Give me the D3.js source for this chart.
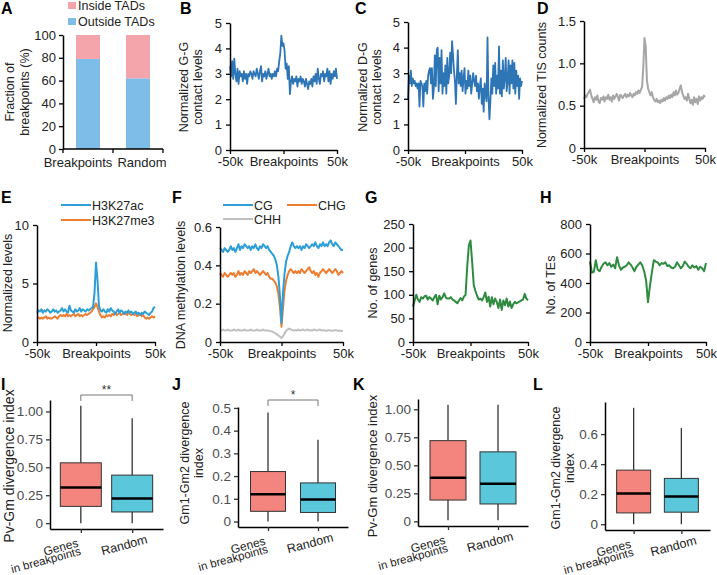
<!DOCTYPE html>
<html>
<head>
<meta charset="utf-8">
<script src="https://cdn.jsdelivr.net/npm/d3@7"></script>
<style>
  body { margin: 0; background: #fff; }
  svg { font-family: Arial, 'Liberation Sans', sans-serif; }
</style>
</head>
<body>
<svg id="fig" width="717" height="575"></svg>
<script>
// ---------- data ----------
var tadCategories = ['Breakpoints', 'Random'];
var outsideTads = [79, 62];
var insideTads = [21, 38];

// profiles from -50k to +50k around breakpoints (evenly spaced bins)
var ggContact = [3.3,2.9,3.5,2.8,3.6,3.0,2.7,3.2,2.6,3.1, 2.9,3.0,2.7,3.1,2.8,3.0,2.6,3.0,2.9,3.1,
  3.0,2.8,3.1,3.0,2.9,3.2,3.0,2.8,3.1,3.3, 2.7,3.0,2.9,3.1,2.8,3.0,3.2,2.9,3.0,2.8,
  3.0,2.9,3.1,2.9,3.2,3.1,3.5,3.8,4.5,4.1, 4.2,3.9,3.2,3.4,2.8,3.3,2.2,2.7,2.9,2.6,
  2.8,2.7,2.9,2.5,2.8,2.7,2.9,2.6,2.8,2.7, 2.5,2.8,2.6,2.4,2.7,2.6,2.8,2.5,2.9,2.7,
  3.0,2.6,3.2,2.8,2.6,3.0,2.9,3.1,2.7,3.0, 2.9,3.2,2.7,3.1,2.6,3.0,2.8,3.1,2.9,3.2,2.8];

var dgContact = [2.0,2.9,2.6,3.1,2.5,2.8,2.6,2.7,2.5,2.6,2.4,2.6, 1.7, 2.7,2.6,2.5, 1.7,
  2.6,2.3,2.7,2.2,2.9,3.1, 3.2,2.6,3.2,2.0, 2.4,3.7,2.5,3.9, 4.0,
  2.3,3.6,2.6,3.9,2.2,3.0,2.5,3.3,2.2,3.6,2.6,2.9,3.8,3.0, 4.25, 3.7,3.1,2.7, 1.8,
  2.9,3.9,2.6,3.0,2.5,3.1,2.3,2.8,3.2,2.2,
  2.7,2.4,3.1,2.5,2.9,2.2,2.6,3.0,2.7,2.5,2.9,2.3,2.6,2.0,2.5,2.8,1.8,2.4,
  1.5, 2.6,2.2,1.9, 4.4, 2.1, 1.2, 1.9,2.8,2.2,3.3,2.5,3.4,2.2,2.9,2.4, 4.05,
  2.2,3.1,2.1,3.5,2.4,2.8,3.6,2.3,2.7,3.5,2.2,3.3,2.6,3.5,2.4,3.4,2.2,3.1,2.5,2.9,2.0,2.8,2.5,2.7];

var tisCounts = [0.58,0.62,0.60,0.64,0.66,0.69,0.62,0.58,0.54,0.60,
  0.57,0.62,0.55,0.53,0.59,0.57,0.61,0.55,0.60,0.58,
  0.63,0.57,0.60,0.55,0.62,0.58,0.61,0.64,0.60,0.56,
  0.63,0.61,0.59,0.62,0.64,0.60,0.63,0.61,0.65,0.62,
  0.60,0.64,0.62,0.66,0.64,0.68,0.65,0.69,0.72,0.95,
  1.30,
  1.20,0.80,0.70,0.66,0.62,0.66,0.60,0.57,0.55,0.58,
  0.54,0.56,0.53,0.57,0.55,0.59,0.56,0.60,0.58,0.62,
  0.59,0.63,0.60,0.66,0.62,0.68,0.63,0.65,0.70,0.74,
  0.66,0.62,0.58,0.60,0.56,0.64,0.58,0.53,0.57,0.51,
  0.60,0.54,0.58,0.52,0.61,0.56,0.60,0.58,0.62,0.60];

var h3k27ac = [2.5,2.7,2.6,2.8,2.5,2.7,2.6,2.8,2.7,2.5, 2.6,2.8,2.6,2.7,2.5,2.6,2.7,2.9,2.6,2.8,
  2.6,2.5,3.1,2.7,2.6,2.5,2.8,2.6,2.7,2.9, 2.6,2.8,2.7,2.6,2.8,2.7,2.8,2.9,3.0,4.2,
  6.8,5.3,3.1,2.7,2.6,2.8,2.6,2.5,2.8,2.6, 2.9,2.7,2.6,2.4,2.6,2.8,2.5,2.7,2.6,2.4,
  2.6,2.5,2.7,2.5,2.6,2.4,2.5,2.6,2.4,2.5, 2.3,2.5,2.4,2.6,2.5,2.4,2.3,2.5,2.6,2.9,3.0];
var h3k27me3 = [2.0,2.1,2.0,2.1,2.0,2.1,2.2,2.0,2.1,2.0, 2.0,2.1,2.2,2.1,2.0,2.2,2.3,2.2,2.3,2.2,
  2.4,2.2,2.3,2.2,2.3,2.4,2.2,2.3,2.4,2.2, 2.3,2.2,2.3,2.4,2.3,2.4,2.5,2.6,2.8,3.0,
  3.3,3.0,2.6,2.3,2.1,2.2,2.1,2.3,2.2,2.3, 2.2,2.4,2.3,2.5,2.3,2.4,2.5,2.3,2.4,2.5,
  2.4,2.3,2.5,2.4,2.3,2.4,2.3,2.4,2.2,2.3, 2.4,2.2,2.3,2.1,2.0,2.1,2.0,2.1,2.2,2.1,2.2];

var cgMeth = [0.49,0.48,0.47,0.49,0.48,0.47,0.48,0.50,0.48,0.49, 0.47,0.49,0.51,0.48,0.50,0.49,0.51,0.50,0.49,0.50,
  0.48,0.50,0.49,0.51,0.49,0.48,0.50,0.49,0.51,0.50, 0.49,0.50,0.48,0.47,0.46,0.45,0.43,0.40,0.34,0.24,
  0.10,0.26,0.36,0.42,0.45,0.47,0.50,0.52,0.50,0.49, 0.50,0.49,0.50,0.48,0.50,0.49,0.51,0.50,0.49,0.50,
  0.51,0.50,0.52,0.50,0.49,0.51,0.50,0.52,0.50,0.51, 0.50,0.52,0.53,0.51,0.50,0.52,0.51,0.50,0.49,0.48,0.48];
var chgMeth = [0.36,0.35,0.34,0.36,0.35,0.34,0.35,0.36,0.35,0.36, 0.34,0.35,0.37,0.35,0.36,0.35,0.37,0.36,0.35,0.37,
  0.36,0.37,0.38,0.36,0.37,0.36,0.35,0.36,0.37,0.36, 0.35,0.36,0.34,0.33,0.33,0.32,0.31,0.29,0.25,0.18,
  0.08,0.18,0.27,0.32,0.35,0.37,0.38,0.37,0.36,0.37, 0.36,0.37,0.36,0.38,0.37,0.36,0.37,0.38,0.39,0.37,
  0.36,0.37,0.35,0.36,0.34,0.36,0.37,0.38,0.37,0.36, 0.37,0.38,0.37,0.36,0.37,0.38,0.37,0.35,0.36,0.37,0.36];
var chhMeth = [0.06,0.06,0.065,0.06,0.06,0.065,0.06,0.06,0.06,0.065, 0.06,0.06,0.065,0.06,0.06,0.06,0.065,0.06,0.06,0.06,
  0.065,0.06,0.06,0.06,0.065,0.06,0.06,0.06,0.065,0.06, 0.06,0.06,0.058,0.056,0.054,0.05,0.046,0.04,0.034,0.028,
  0.02,
  0.03,0.045,0.058,0.066,0.07,0.066,0.062,0.06,0.062,0.06, 0.065,0.06,0.062,0.065,0.06,0.062,0.065,0.06,0.062,0.06,
  0.065,0.062,0.06,0.062,0.065,0.06,0.062,0.06,0.058,0.06, 0.062,0.06,0.058,0.06,0.062,0.06,0.058,0.06,0.058,0.057];

var geneCounts = [75,88,100,90,85,95,92,97,98,90, 95,92,88,95,100,80,98,90,95,103,
  94,92,92,95,90,88,85,82,88,93, 88,96,100,160,205,215,170,120,108,98,
  90,92,88,95,105,85,96,75,95,80, 92,85,72,90,68,88,78,92,75,86,
  72,80,85,82,84,86,88,90,102,92,88];
var teCounts = [545,470,475,555,490,480,510,530,540,520, 535,510,525,500,575,520,490,505,510,520,
  540,525,505,480,510,525,540,520,480,420, 270,
  380,470,555,545,540,520,535,530,540,515, 520,505,500,510,540,520,500,515,545,530,
  510,500,520,505,515,490,510,500,480,535];

// box plots: [min, q1, median, q3, max]
var boxCategories = ['Genes in breakpoints', 'Random'];
var pvGmBreak = [[0, 0.15, 0.32, 0.54, 1.05], [0, 0.10, 0.22, 0.43, 0.94]];
var gm1Gm2Break = [[0, 0.045, 0.12, 0.22, 0.48], [0, 0.04, 0.097, 0.17, 0.36]];
var pvGmAll = [[0.01, 0.19, 0.39, 0.72, 1.04], [0.01, 0.155, 0.335, 0.62, 1.04]];
var gm1Gm2All = [[0, 0.075, 0.205, 0.36, 0.775], [0, 0.08, 0.185, 0.305, 0.64]];

// ---------- drawing ----------
var svg = d3.select('#fig');
var BLUE = '#2E75B6', LBLUE = '#2E9FD6', ORANGE = '#ED7D31', GREY = '#A6A6A6', GREEN = '#2E8B3F';

function panelLetter(t, x, y) {
  svg.append('text').attr('x', x).attr('y', y).attr('font-size', 16).attr('font-weight', 'bold').text(t);
}

// rotated y label, one text per line, lines given by centre x
function yLabel(lines, xs, cy, size) {
  lines.forEach(function(t, i) {
    svg.append('text')
      .attr('transform', 'translate(' + xs[i] + ',' + cy + ') rotate(-90)')
      .attr('text-anchor', 'middle').attr('dy', '0.35em')
      .attr('font-size', size || 12.5).attr('fill', '#222')
      .text(t);
  });
}

function styleAxis(a, size, color) {
  a.attr('font-family', null).attr('font-size', size || 13);
  a.select('.domain').attr('stroke', '#000').attr('stroke-width', 1.5);
  a.selectAll('.tick line').attr('stroke', '#000').attr('stroke-width', 1.3);
  a.selectAll('.tick text').attr('fill', color || '#222');
}

function zeroFmt(f) {
  return function(d) { return d === 0 ? '0' : d3.format(f)(d); };
}

/**
 * Stacked bar chart of panel A
 */
function barPanel() {
  var g = svg.append('g');
  var x = d3.scaleBand().domain(tadCategories).range([63, 163]);
  var y = d3.scaleLinear().domain([0, 100]).range([149, 35]);
  var bw = 24;

  g.selectAll('rect.out').data(outsideTads).join('rect')
    .attr('x', function(d, i) { return x(tadCategories[i]) + x.bandwidth() / 2 - bw / 2; })
    .attr('y', function(d) { return y(d); })
    .attr('width', bw).attr('height', function(d) { return y(0) - y(d); })
    .attr('fill', '#7DBDE8');
  g.selectAll('rect.in').data(insideTads).join('rect')
    .attr('x', function(d, i) { return x(tadCategories[i]) + x.bandwidth() / 2 - bw / 2; })
    .attr('y', function(d, i) { return y(outsideTads[i] + d); })
    .attr('width', bw).attr('height', function(d) { return y(0) - y(d); })
    .attr('fill', '#F4A5AB');

  var ya = g.append('g').attr('transform', 'translate(63,0)')
    .call(d3.axisLeft(y).tickValues([0, 20, 40, 60, 80, 100]).tickSize(4).tickPadding(3).tickSizeOuter(0));
  styleAxis(ya);

  var xa = g.append('g').attr('transform', 'translate(0,149)');
  xa.append('line').attr('x1', 63).attr('x2', 163).attr('stroke', '#000').attr('stroke-width', 1.5);
  [0, 1, 2].forEach(function(i) {
    xa.append('line').attr('x1', 63 + i * x.bandwidth()).attr('x2', 63 + i * x.bandwidth())
      .attr('y2', 4).attr('stroke', '#000').attr('stroke-width', 1.3);
  });
  var shift = [-10, 4];
  tadCategories.forEach(function(c, i) {
    xa.append('text').attr('x', x(c) + x.bandwidth() / 2 + shift[i]).attr('y', 18)
      .attr('text-anchor', 'middle').attr('font-size', 13).attr('fill', '#222').text(c);
  });

  // legend
  var leg = [['Inside TADs', '#F4A5AB'], ['Outside TADs', '#7DBDE8']];
  leg.forEach(function(l, i) {
    svg.append('rect').attr('x', 68).attr('y', 2 + i * 16).attr('width', 8).attr('height', 7).attr('fill', l[1]);
    svg.append('text').attr('x', 78).attr('y', 10 + i * 16).attr('font-size', 12.5).attr('fill', '#222').text(l[0]);
  });
}

/**
 * Profile line chart (-50k .. 50k)
 */
function linePanel(o) {
  var g = svg.append('g');
  var x = d3.scaleLinear().domain([-50, 50]).range([o.x0, o.x1]);
  var y = d3.scaleLinear().domain([0, o.max]).range([o.yBot, o.yTop]);

  o.series.forEach(function(s) {
    var n = s.values.length;
    var line = d3.line()
      .x(function(d, i) { return x(-50 + 100 * i / (n - 1)); })
      .y(function(d) { return y(d); });
    g.append('path').datum(s.values).attr('d', line)
      .attr('fill', 'none').attr('stroke', s.color).attr('stroke-width', s.width || 2)
      .attr('stroke-linejoin', 'round');
  });

  var ya = g.append('g').attr('transform', 'translate(' + o.x0 + ',0)')
    .call(d3.axisLeft(y).tickValues(o.ticks).tickFormat(o.fmt).tickSize(4).tickPadding(4).tickSizeOuter(0));
  styleAxis(ya);
  var xa = g.append('g').attr('transform', 'translate(0,' + o.yBot + ')')
    .call(d3.axisBottom(x).tickValues([-50, 0, 50])
      .tickFormat(function(d) { return d === 0 ? 'Breakpoints' : d + 'k'; })
      .tickSize(4).tickSizeOuter(0));
  styleAxis(xa);
}

function lineLegend(items) {
  items.forEach(function(it) {
    svg.append('line').attr('x1', it.x).attr('x2', it.x + 30).attr('y1', it.y).attr('y2', it.y)
      .attr('stroke', it.color).attr('stroke-width', 2);
    svg.append('text').attr('x', it.x + 31).attr('y', it.y + 4.5).attr('font-size', 12.5)
      .attr('fill', '#222').text(it.name);
  });
}

/**
 * ggplot-like box plot
 */
function boxPanel(o) {
  var g = svg.append('g');
  var x = d3.scalePoint().domain(boxCategories).range([o.x0, o.x1]).padding(0.6);
  var lo = d3.min(o.data, function(d) { return d[0]; });
  var hi = d3.max(o.data, function(d) { return d[4]; });
  var pad = (hi - lo) * 0.05;
  var y = d3.scaleLinear().domain([lo - pad, hi + pad]).range([o.yBot, o.yTop]);
  var fills = ['#F4847E', '#5BC7DB'];

  o.data.forEach(function(d, i) {
    var cx = x(boxCategories[i]);
    g.append('line').attr('x1', cx).attr('x2', cx).attr('y1', y(d[0])).attr('y2', y(d[1]))
      .attr('stroke', '#333').attr('stroke-width', 1.3);
    g.append('line').attr('x1', cx).attr('x2', cx).attr('y1', y(d[3])).attr('y2', y(d[4]))
      .attr('stroke', '#333').attr('stroke-width', 1.3);
    g.append('rect').attr('x', cx - o.bw / 2).attr('y', y(d[3]))
      .attr('width', o.bw).attr('height', y(d[1]) - y(d[3]))
      .attr('fill', fills[i]).attr('stroke', '#333').attr('stroke-width', 1);
    g.append('line').attr('x1', cx - o.bw / 2).attr('x2', cx + o.bw / 2)
      .attr('y1', y(d[2])).attr('y2', y(d[2])).attr('stroke', '#000').attr('stroke-width', 2.5);
  });

  var ya = g.append('g').attr('transform', 'translate(' + o.x0 + ',0)')
    .call(d3.axisLeft(y).tickValues(o.ticks).tickFormat(o.fmt).tickSize(4).tickPadding(3).tickSizeOuter(0));
  styleAxis(ya, 13.5, '#4D4D4D');
  ya.selectAll('.tick line').attr('stroke', '#333');

  var xa = g.append('g').attr('transform', 'translate(0,' + o.yBot + ')')
    .call(d3.axisBottom(x).tickSize(4).tickSizeOuter(0).tickFormat(''));
  styleAxis(xa);
  xa.selectAll('.tick line').attr('stroke', '#333');

  // slanted category labels
  var c0 = x(boxCategories[0]), c1 = x(boxCategories[1]);
  [['Genes', c0 - 20, 18, 12], ['in breakpoints', c0 - 35, 31, 11.5], ['Random', c1 - 8, 16, 12.5]].forEach(function(l) {
    svg.append('text')
      .attr('transform', 'translate(' + l[1] + ',' + (o.yBot + l[2]) + ') rotate(-15)')
      .attr('text-anchor', 'middle').attr('dy', '0.35em').attr('font-size', l[3]).attr('fill', '#222')
      .text(l[0]);
  });

  if (o.star) {
    var by = o.star.y;
    g.append('path')
      .attr('d', 'M' + c0 + ',' + (by + 6) + 'V' + by + 'H' + c1 + 'V' + (by + 6))
      .attr('fill', 'none').attr('stroke', '#777').attr('stroke-width', 1);
    g.append('text').attr('x', (c0 + c1) / 2).attr('y', by - 1).attr('text-anchor', 'middle')
      .attr('font-size', 12).attr('fill', '#333').text(o.star.text);
  }
}

// ---------- row 1 ----------
panelLetter('A', 1, 14);
barPanel();
yLabel(['Fraction of', 'breakpoints (%)'], [10, 25], 92);

panelLetter('B', 180, 14);
linePanel({ x0: 230, x1: 337, yTop: 23, yBot: 150, max: 5, ticks: [0, 1, 2, 3, 4, 5], fmt: d3.format('d'),
  series: [{ values: ggContact, color: BLUE, width: 1.8 }] });
yLabel(['Normalized  G-G', 'contact levels'], [184, 198], 87);

panelLetter('C', 355, 14);
linePanel({ x0: 408, x1: 522, yTop: 22, yBot: 150, max: 5, ticks: [0, 1, 2, 3, 4, 5], fmt: d3.format('d'),
  series: [{ values: dgContact, color: BLUE, width: 1.8 }] });
yLabel(['Normalized  D-G', 'contact levels'], [363, 377], 87);

panelLetter('D', 537, 14);
linePanel({ x0: 584, x1: 705, yTop: 21, yBot: 148, max: 1.5, ticks: [0, 0.5, 1, 1.5], fmt: zeroFmt('.1f'),
  series: [{ values: tisCounts, color: GREY }] });
yLabel(['Normalized  TIS counts'], [542], 85);

// ---------- row 2 ----------
panelLetter('E', 1, 203);
linePanel({ x0: 37, x1: 155, yTop: 225, yBot: 342, max: 10, ticks: [0, 5, 10], fmt: d3.format('d'),
  series: [{ values: h3k27me3, color: ORANGE }, { values: h3k27ac, color: LBLUE }] });
yLabel(['Normalized levels'], [8], 283);
lineLegend([{ x: 61, y: 205, color: LBLUE, name: 'H3K27ac' }, { x: 61, y: 220, color: ORANGE, name: 'H3K27me3' }]);

panelLetter('F', 172, 203);
linePanel({ x0: 220, x1: 343, yTop: 227, yBot: 342, max: 0.6, ticks: [0, 0.2, 0.4, 0.6], fmt: zeroFmt('.1f'),
  series: [{ values: chhMeth, color: '#BFBFBF' }, { values: chgMeth, color: ORANGE }, { values: cgMeth, color: LBLUE }] });
yLabel(['DNA methylation  levels'], [181], 285);
lineLegend([{ x: 223, y: 205, color: LBLUE, name: 'CG' }, { x: 287, y: 205, color: ORANGE, name: 'CHG' },
  { x: 223, y: 219, color: '#BFBFBF', name: 'CHH' }]);

panelLetter('G', 365, 203);
linePanel({ x0: 413, x1: 528, yTop: 224, yBot: 342, max: 250, ticks: [0, 50, 100, 150, 200, 250], fmt: d3.format('d'),
  series: [{ values: geneCounts, color: GREEN }] });
yLabel(['No. of genes'], [373], 283);

panelLetter('H', 540, 203);
linePanel({ x0: 590, x1: 706, yTop: 224, yBot: 342, max: 800, ticks: [0, 200, 400, 600, 800], fmt: d3.format('d'),
  series: [{ values: teCounts, color: GREEN }] });
yLabel(['No. of TEs'], [551], 285);

// ---------- row 3 ----------
panelLetter('I', 1, 390);
boxPanel({ x0: 50, x1: 163, yTop: 400, yBot: 529, bw: 41, data: pvGmBreak,
  ticks: [0, 0.25, 0.5, 0.75, 1], fmt: zeroFmt('.2f'), star: { y: 395, text: '**' } });
yLabel(['Pv-Gm divergence index'], [9], 466, 14);

panelLetter('J', 172, 390);
boxPanel({ x0: 238, x1: 348, yTop: 407, yBot: 527, bw: 35, data: gm1Gm2Break,
  ticks: [0, 0.1, 0.2, 0.3, 0.4, 0.5], fmt: zeroFmt('.1f'), star: { y: 400, text: '*' } });
yLabel(['Gm1-Gm2  divergence', 'index'], [185, 199], 463, 12.5);

panelLetter('K', 353, 390);
boxPanel({ x0: 418, x1: 528, yTop: 399, yBot: 526, bw: 36, data: pvGmAll,
  ticks: [0, 0.25, 0.5, 0.75, 1], fmt: zeroFmt('.2f') });
yLabel(['Pv-Gm divergence index'], [372], 466, 13);

panelLetter('L', 533, 390);
boxPanel({ x0: 605, x1: 710, yTop: 402, yBot: 530, bw: 34, data: gm1Gm2All,
  ticks: [0, 0.2, 0.4, 0.6], fmt: zeroFmt('.1f') });
yLabel(['Gm1-Gm2  divergence', 'index'], [556, 570], 468, 12.5);
</script>
</body>
</html>
